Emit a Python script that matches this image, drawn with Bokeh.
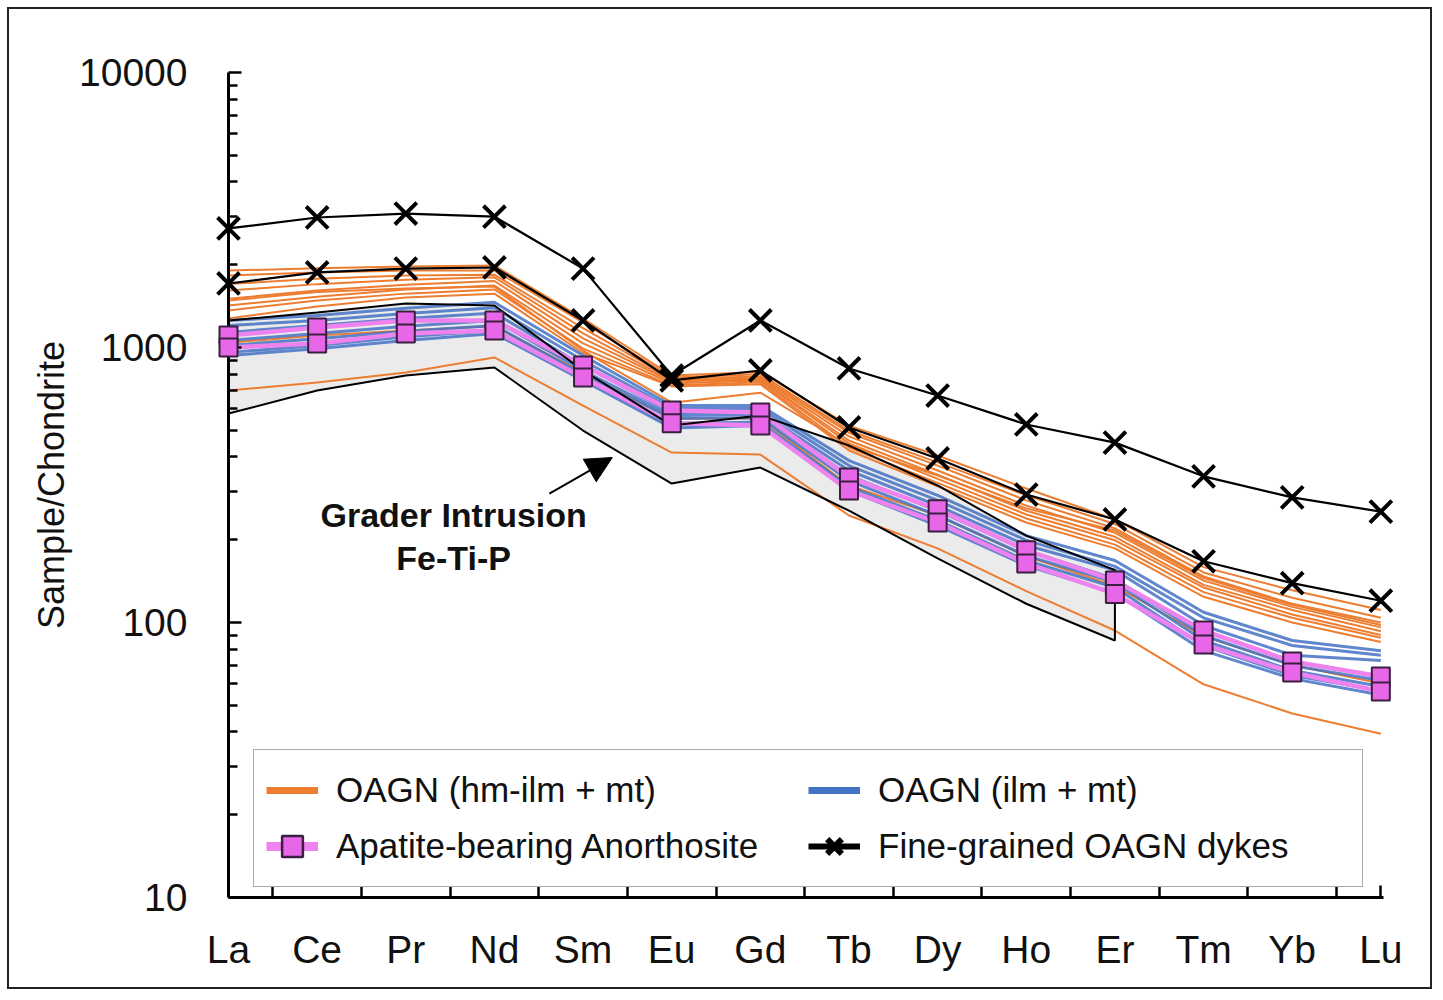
from bokeh.plotting import figure
from bokeh.models import (Range1d, FixedTicker, Legend, LegendItem, Label, Arrow,
                          NormalHead, PrintfTickFormatter)
from bokeh.embed import file_html
from bokeh.resources import INLINE

# ---------------- data ----------------
ree = ["La", "Ce", "Pr", "Nd", "Sm", "Eu", "Gd", "Tb", "Dy", "Ho", "Er", "Tm", "Yb", "Lu"]
y_major = [10, 100, 1000, 10000]

oagn_hm_ilm_mt = [
    [1905, 1940, 1970, 1987, 1275, 791, 815, 520, 405, 307, 237, 159, 131, 111],
    [1828, 1875, 1905, 1905, 1235, 778, 800, 499, 382, 290, 228, 152, 123, 104],
    [1700, 1780, 1828, 1840, 1175, 770, 785, 490, 372, 278, 220, 147, 117, 100],
    [1611, 1700, 1765, 1800, 1125, 759, 775, 475, 357, 266, 212, 142, 114, 96],
    [1505, 1611, 1690, 1745, 1080, 752, 765, 459, 345, 255, 205, 137, 111, 93],
    [1422, 1530, 1625, 1680, 1035, 740, 759, 448, 333, 247, 199, 134, 107, 90],
    [1364, 1482, 1570, 1625, 990, 728, 747, 433, 322, 239, 192, 129, 104, 88],
    [1275, 1410, 1520, 1570, 955, 722, 735, 422, 313, 231, 186, 124, 100, 85],
    [1482, 1590, 1640, 1665, 975, 630, 685, 440, 342, 260, 216, 145, 116, 98],
    [1040, 1106, 1153, 1195, 810, 552, 552, 315, 245, 174, 136, 89, 70, 60],
    [698, 746, 811, 920, 615, 415, 408, 245, 186, 130, 93.5, 59.6, 46.7, 39.4],
]

oagn_ilm_mt = [
    [1254, 1307, 1390, 1460, 935, 615, 615, 388, 290, 207, 168, 109, 86, 79],
    [1203, 1254, 1330, 1395, 897, 600, 600, 372, 278, 199, 160, 104, 82.5, 76],
    [1135, 1203, 1275, 1335, 860, 580, 582, 357, 266, 191, 155, 97.5, 76, 72.8],
    [1060, 1125, 1195, 1254, 825, 566, 570, 342, 255, 183, 144, 89.7, 69.8, 61.5],
    [1017, 1075, 1145, 1203, 798, 552, 555, 328, 245, 175, 140, 86, 66.9, 58.5],
    [960, 1017, 1095, 1153, 775, 530, 535, 312, 235, 168, 134, 82.5, 64.2, 56.6],
    [935, 990, 1060, 1125, 759, 510, 520, 302, 225, 161, 128, 79, 62.5, 54.5],
]

apatite_anorthosite = [
    [1106, 1183, 1254, 1254, 860, 590, 580, 337, 258, 183, 142, 93.5, 72.1, 63.6],
    [1000, 1035, 1125, 1153, 778, 530, 520, 302, 231, 164, 127, 83.2, 65.8, 56.1],
]

fine_grained_dykes = [
    [2710, 2970, 3070, 2990, 1936, 791, 1254, 839, 669, 525, 451, 340, 285, 253],
    [1709, 1875, 1936, 1954, 1254, 759, 825, 512, 395, 292, 237, 167, 139, 120],
]

# Grader Intrusion Fe-Ti-P field (La..Er)
grader_upper = [1254, 1340, 1445, 1422, 825, 520, 566, 440, 315, 207, 155]
grader_lower = [575, 698, 791, 846, 499, 320, 366, 255, 171, 117, 86]

# ---------------- styling ----------------
ORANGE = "#ED7D31"
BLUE = "#4472C4"
PINK = "#EE82EE"
SQ_FILL = "#E866E8"
FONT = "Liberation Sans"
NAN = float("nan")

xs = list(range(len(ree)))

p = figure(width=1425, height=982, y_axis_type="log",
           x_range=Range1d(0, 13.03), y_range=Range1d(10, 10000),
           output_backend="svg", toolbar_location=None,
           min_border_left=219, min_border_right=51,
           min_border_top=63, min_border_bottom=94)
p.styles = {"border": "2px solid #222222", "margin": "7px"}
p.outline_line_color = None
p.xgrid.visible = False
p.ygrid.visible = False
p.background_fill_color = "white"
p.border_fill_color = "white"

# Grader field fill
gx = list(range(len(grader_upper))) + list(range(len(grader_lower)))[::-1]
gy = grader_upper + grader_lower[::-1]
p.patch(gx, gy, fill_color="#EBEBEB", line_color=None)

for row in oagn_hm_ilm_mt:
    p.line(xs, row, line_color=ORANGE, line_width=2)
for row in oagn_ilm_mt:
    p.line(xs, row, line_color=BLUE, line_width=3, line_alpha=0.85)
for row in apatite_anorthosite:
    p.line(xs, row, line_color=PINK, line_width=4.5)

# Grader field outline on top of lines
p.line(gx + [gx[0]], gy + [gy[0]], line_color="black", line_width=2)

for row in fine_grained_dykes:
    p.line(xs, row, line_color="black", line_width=2.2)
for row in apatite_anorthosite:
    p.scatter(xs, row, marker="square", size=18, fill_color=SQ_FILL,
              line_color="#3a2040", line_width=2, level="overlay")
for row in fine_grained_dykes:
    p.scatter(xs, row, marker="x", size=31, line_color="black",
              line_width=4, level="overlay")

# legend-only renderers (NaN data: nothing drawn in the plot)
lg_or = p.line([NAN], [NAN], line_color=ORANGE, line_width=7)
lg_bl = p.line([NAN], [NAN], line_color=BLUE, line_width=7)
lg_pk = p.line([NAN], [NAN], line_color=PINK, line_width=9)
lg_sq = p.scatter([NAN], [NAN], marker="square", size=17, fill_color=SQ_FILL,
                  line_color="#3a2040", line_width=2.5)
lg_dl = p.line([NAN], [NAN], line_color="black", line_width=6)
lg_dx = p.scatter([NAN], [NAN], marker="x", size=26, line_color="black", line_width=6)

legend = Legend(items=[
    LegendItem(label="OAGN (hm-ilm + mt)", renderers=[lg_or]),
    LegendItem(label="OAGN (ilm + mt)", renderers=[lg_bl]),
    LegendItem(label="Apatite-bearing Anorthosite", renderers=[lg_pk, lg_sq]),
    LegendItem(label="Fine-grained OAGN dykes", renderers=[lg_dl, lg_dx]),
], location=(25, 10), orientation="horizontal", ncols=2)
legend.label_text_font = FONT
legend.label_text_font_size = "35px"
legend.label_text_color = "#111111"
legend.glyph_width = 52
legend.glyph_height = 56
legend.label_standoff = 18
legend.label_width = 472
legend.spacing = 0
legend.padding = 12
legend.margin = 0
legend.border_line_color = "#555555"
legend.border_line_width = 1.5
legend.background_fill_color = "white"
legend.background_fill_alpha = 1.0
p.add_layout(legend)

# axes
p.yaxis.ticker = FixedTicker(ticks=y_major,
                             minor_ticks=[m * d for d in (10, 100, 1000) for m in range(2, 10)])
p.yaxis.formatter = PrintfTickFormatter(format="%d")
p.yaxis.major_tick_in = 13
p.yaxis.major_tick_out = 0
p.yaxis.minor_tick_in = 9
p.yaxis.minor_tick_out = 0
p.yaxis.major_label_standoff = 41
p.yaxis.axis_label = "Sample/Chondrite"
p.yaxis.axis_label_standoff = 4
p.yaxis.axis_label_text_font_style = "normal"
p.yaxis.axis_label_text_font_size = "36px"

p.xaxis.ticker = FixedTicker(ticks=xs, minor_ticks=[i + 0.5 for i in xs[:-1]] + [xs[-1]])
p.xaxis.major_label_overrides = {i: name for i, name in enumerate(ree)}
p.xaxis.major_tick_in = 0
p.xaxis.major_tick_out = 0
p.xaxis.minor_tick_in = 12
p.xaxis.minor_tick_out = 0
p.xaxis.major_label_standoff = 30

for ax in (p.xaxis, p.yaxis):
    ax.axis_line_color = "black"
    ax.axis_line_width = 3
    ax.major_tick_line_color = "black"
    ax.major_tick_line_width = 2.5
    ax.minor_tick_line_color = "black"
    ax.minor_tick_line_width = 2.5
    ax.major_label_text_font = FONT
    ax.major_label_text_font_size = "39px"
    ax.major_label_text_color = "#111111"
    ax.axis_label_text_font = FONT
    ax.axis_label_text_color = "#111111"

# annotation
p.add_layout(Arrow(end=NormalHead(size=26, fill_color="black", line_color="black"),
                   x_start=3.62, y_start=294, x_end=4.33, y_end=398,
                   line_width=2, line_color="black"))
p.add_layout(Label(x=2.54, y=245, text="Grader Intrusion", text_align="center",
                   text_baseline="middle", text_font=FONT, text_font_size="34px",
                   text_font_style="bold", text_color="#111111"))
p.add_layout(Label(x=2.54, y=172, text="Fe-Ti-P", text_align="center",
                   text_baseline="middle", text_font=FONT, text_font_size="34px",
                   text_font_style="bold", text_color="#111111"))

open("out.html", "w").write(file_html(p, INLINE))
